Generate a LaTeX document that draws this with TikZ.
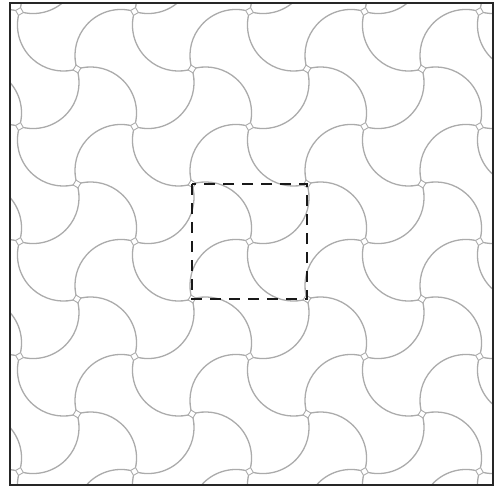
\documentclass[tikz,border=0pt]{standalone}
\usetikzlibrary{calc}
\tikzset{
  tilearc/.style={draw=black!33, line width=1.3pt},
  gapsq/.style={draw=black!33, line width=0.9pt},
  outerframe/.style={draw=black!85, line width=2.4pt},
  cellbox/.style={draw=black!90, line width=2.6pt, dash pattern=on 11pt off 8pt}
}
\begin{document}
\begin{tikzpicture}[x=1pt,y=-1pt]
  \useasboundingbox (0,0) rectangle (495,487);
  \def\h{57.5}% half period
  \def\r{46}% arc radius
  \def\e{5}% gap, degrees
  \pgfmathsetmacro\c{\h/sqrt(2)}
  \pgfmathsetmacro\s{sqrt(\r*\r-\c*\c)}
  \pgfmathsetmacro\half{asin(\c/\r)}
  \begin{scope}
    \clip (10,3) rectangle (493,485);
    % four arcs leave every odd lattice point
    \foreach \i in {-1,1,...,7} {
      \foreach \j in {-1,1,...,7} {
        \foreach \k in {0,1,2,3} {
          \pgfmathsetmacro\cx{249.5+\h*(\i-3)+\c*cos(-135+90*\k)+\s*cos(135+90*\k)}
          \pgfmathsetmacro\cy{241.5+\h*(\j-3)+\c*sin(-135+90*\k)+\s*sin(135+90*\k)}
          \pgfmathsetmacro\aa{\half-45+90*\k-\e}
          \pgfmathsetmacro\ab{-45-\half+90*\k+\e}
          \draw[tilearc] (\cx,\cy) ++(\aa:\r) arc[start angle=\aa, end angle=\ab, radius=\r];
        }
      }
    }
    % little squares where four arcs meet
    \foreach \i in {-1,...,8} {
      \foreach \j in {-1,...,8} {
        \pgfmathsetmacro\px{249.5+\h*(\i-3)}
        \pgfmathsetmacro\py{241.5+\h*(\j-3)}
        \pgfmathparse{int(mod(\i+10,2))}
        \let\odd\pgfmathresult
        \pgfmathparse{int(mod(\i+\j+10,2))}
        \ifnum\pgfmathresult=0
          \ifnum\odd=1
            \pgfmathsetmacro\b{\half-45}
            \pgfmathsetmacro\f{-\e}
          \else
            \pgfmathsetmacro\b{-45-\half}
            \pgfmathsetmacro\f{\e}
          \fi
          \draw[gapsq] ($(\px,\py)+(\b+\f:\r)-(\b:\r)$)
            -- ($(\px,\py)+(\b+90+\f:\r)-(\b+90:\r)$)
            -- ($(\px,\py)+(\b+180+\f:\r)-(\b+180:\r)$)
            -- ($(\px,\py)+(\b+270+\f:\r)-(\b+270:\r)$) -- cycle;
        \fi
      }
    }
  \end{scope}
  \draw[outerframe] (10,3) rectangle (493,485);
  \coordinate (cellA) at (192,184);
  \coordinate (cellB) at (307,299);
  \draw[cellbox] (cellA) rectangle (cellB);
\end{tikzpicture}
\end{document}
